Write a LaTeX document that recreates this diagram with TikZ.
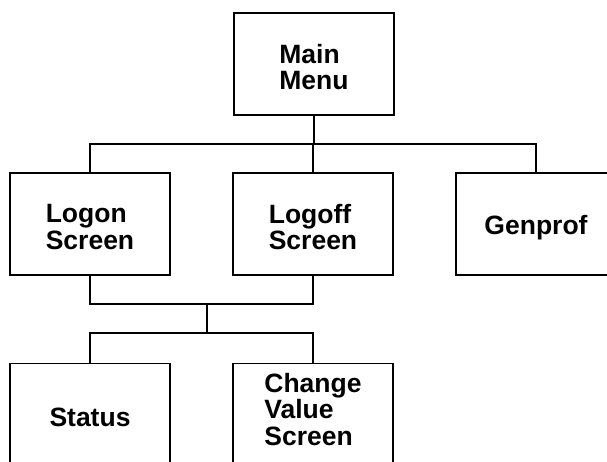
\documentclass[tikz,border=0pt]{standalone}
\usepackage{fontspec}
\setmainfont{Liberation Sans}
\begin{document}
\begin{tikzpicture}[x=1pt,y=-1pt,line width=1.8pt,
  screenbox/.style={draw,rectangle,minimum width=160pt,minimum height=102pt,inner sep=0pt},
  screentext/.style={align=left,inner sep=0pt,font=\fontsize{26.5}{26.5}\selectfont\bfseries},
  link/.style={draw,line width=1.8pt}]
\useasboundingbox (0,0) rectangle (607,461);
% screens
\node[screenbox] (main)    at (314,64)    {};
\node[screenbox] (logon)   at (90,224)    {};
\node[screenbox] (logoff)  at (313,224)   {};
\node[screenbox] (genprof) at (536,224)   {};
\node[screenbox] (status)  at (90,414.5)  {};
\node[screenbox] (change)  at (313,414.5) {};
% screen titles
\node[screentext] (mainT)    at ([yshift=-3pt]main.center)   {Main\\Menu};
\node[screentext] (logonT)   at ([yshift=-3pt]logon.center)  {Logon\\Screen};
\node[screentext] (logoffT)  at ([yshift=-3pt]logoff.center) {Logoff\\Screen};
\node[screentext] (genprofT) at ([yshift=-4pt]genprof.center){Genprof};
\node[screentext] (statusT)  at ([yshift=-3pt]status.center) {Status};
\node[screentext] (changeT)  at ([yshift=5pt]change.center)  {Change\\Value\\Screen};
% junction points of the bus lines
\coordinate (top)   at (314,144);
\coordinate (merge) at (207,304);
\coordinate (split) at (207,333);
% main menu to first level
\draw[link] (main.south) -- (top);
\draw[link] (logon.north) |- (top) -| (genprof.north);
\draw[link] (top) -| (logoff.north);
% first level to second level
\draw[link] (logon.south) |- (merge) -| (logoff.south);
\draw[link] (merge) -- (split);
\draw[link] (status.north) |- (split) -| (change.north);
\end{tikzpicture}
\end{document}
